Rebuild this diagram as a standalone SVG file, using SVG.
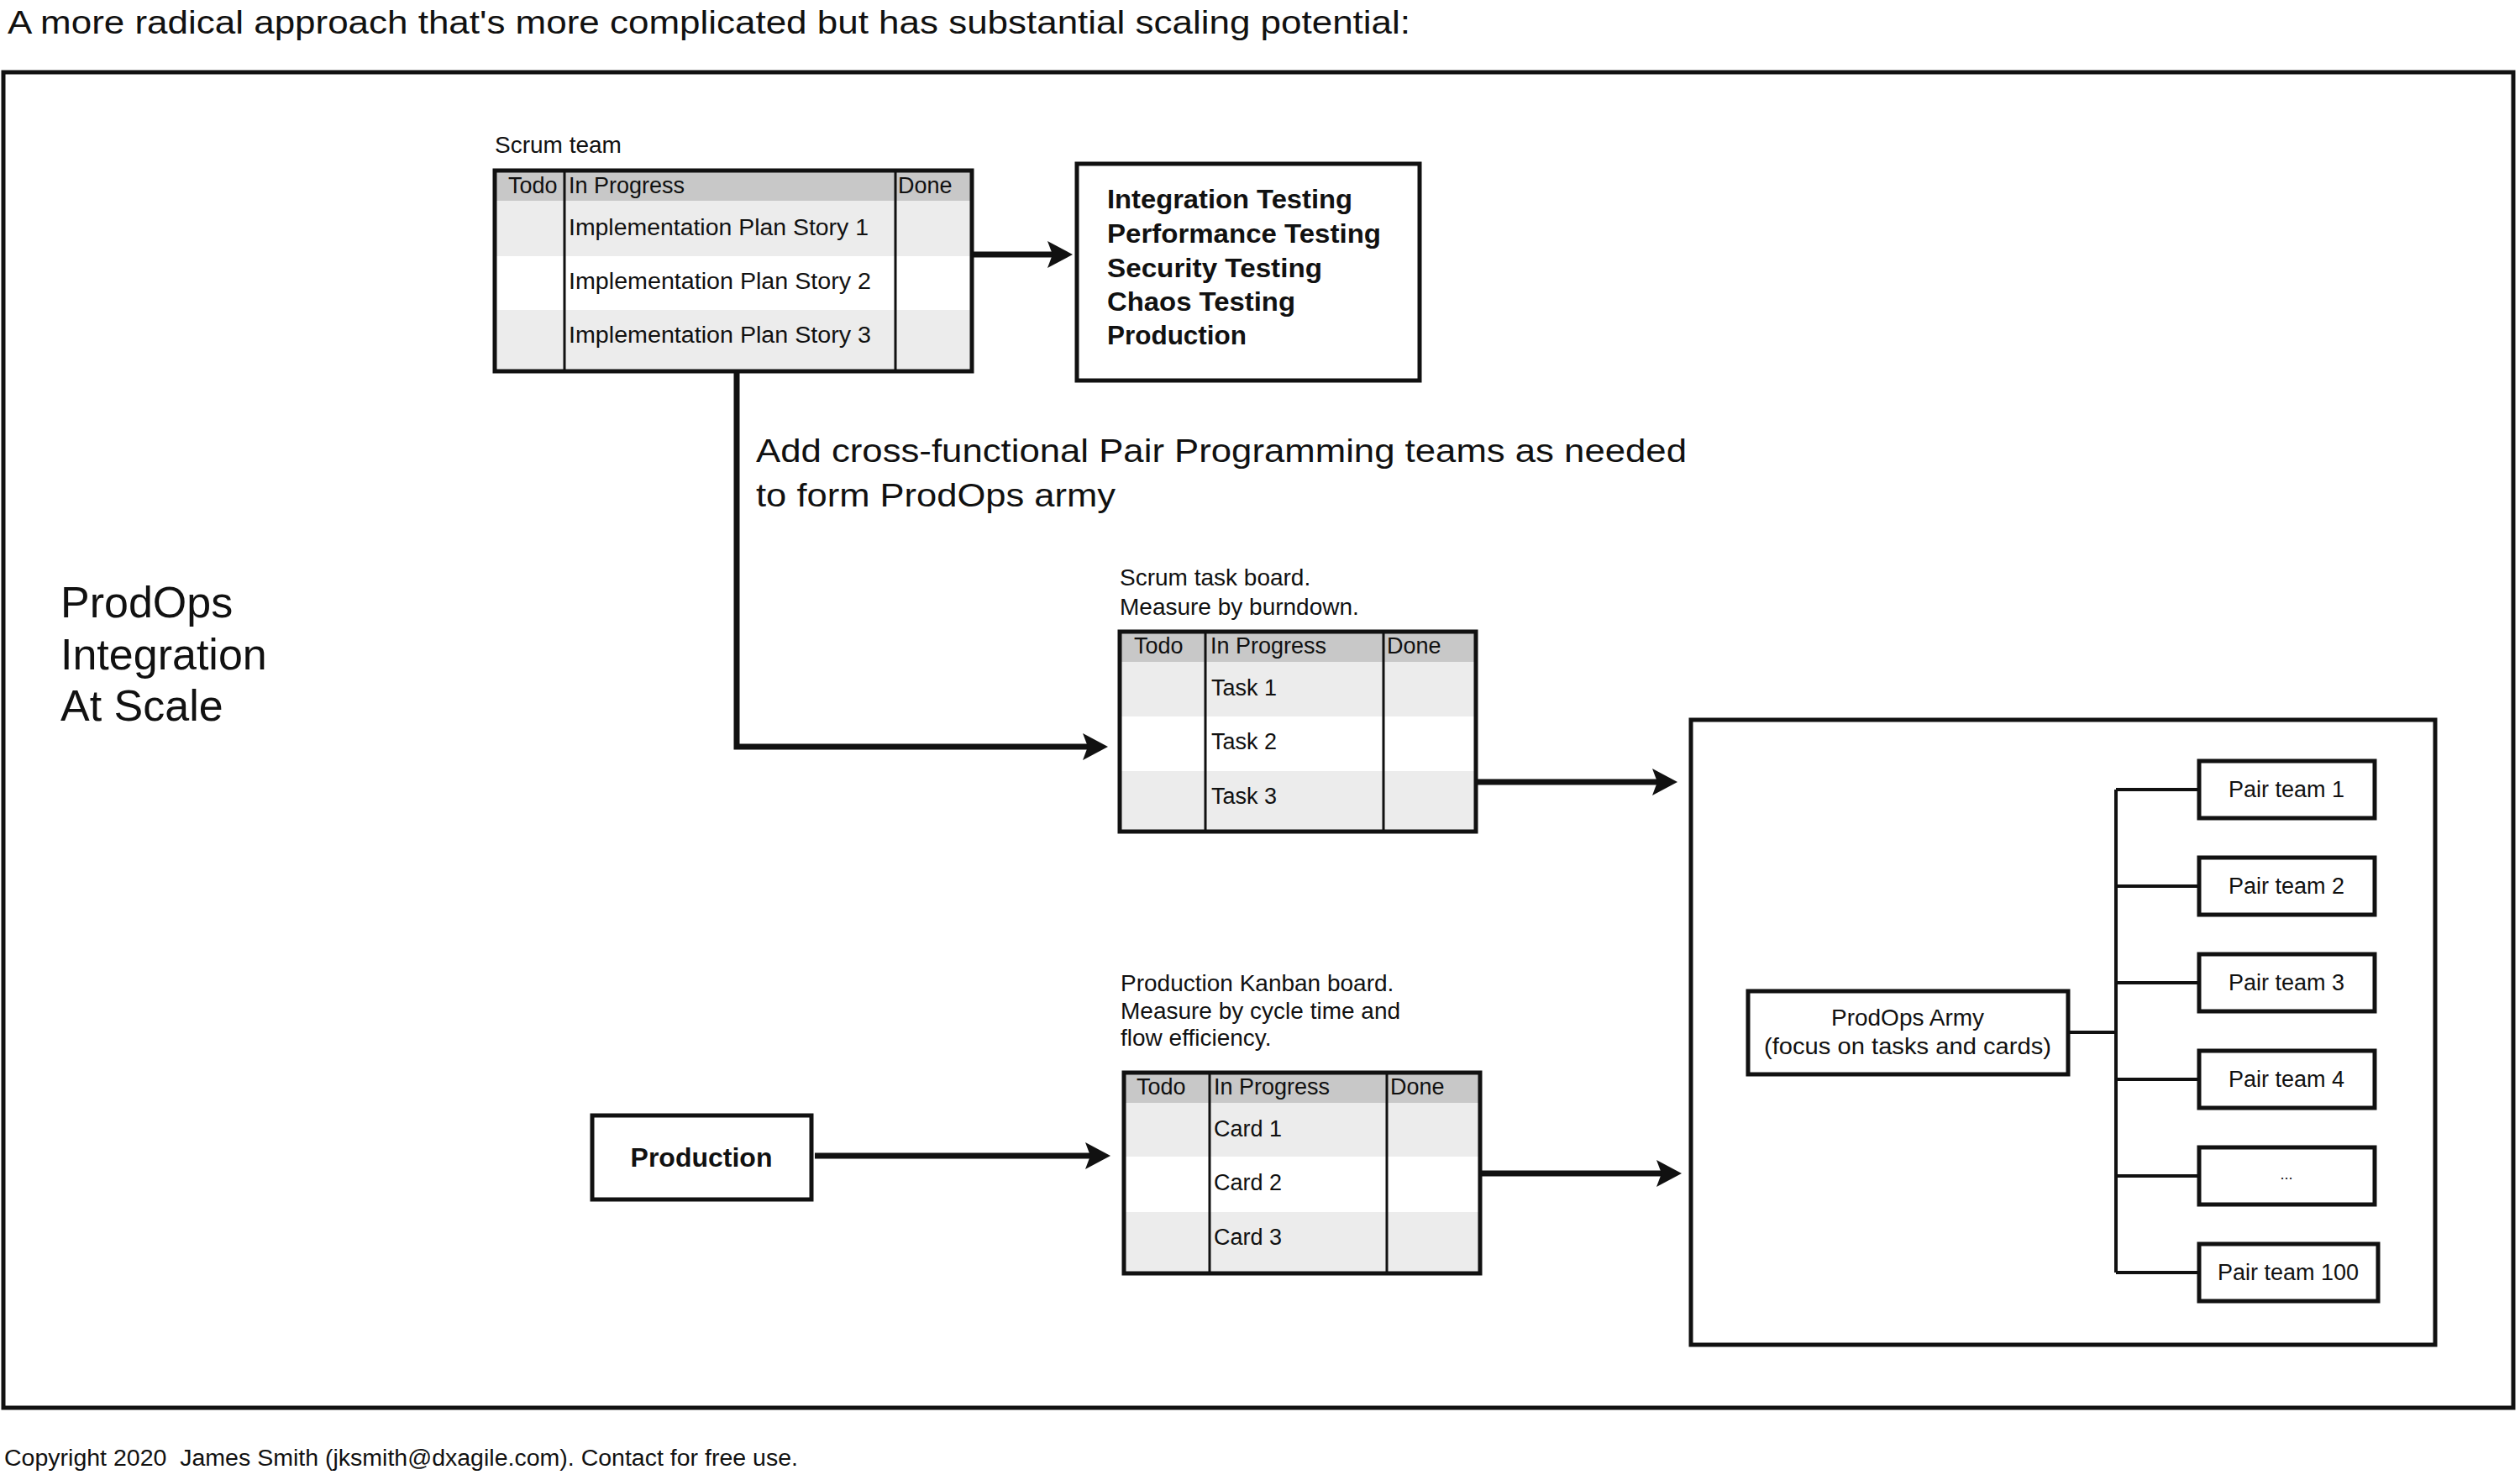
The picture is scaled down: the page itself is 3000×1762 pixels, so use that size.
<svg xmlns="http://www.w3.org/2000/svg" width="3000" height="1762" viewBox="0 0 3000 1762">
<style>
text{font-family:"Liberation Sans",Arial,sans-serif;fill:#111}
.t26{font-size:26px}
.t27{font-size:27px}
.t28{font-size:28px}
.hdr{fill:#c8c8c8}
.alt{fill:#ececec}
.wht{fill:#ffffff}
.frame{fill:none;stroke:#111;stroke-width:5}
.box{fill:#fff;stroke:#111;stroke-width:5}
.div{stroke:#111;stroke-width:3}
.conn{fill:none;stroke:#111;stroke-width:7}
.tree{fill:none;stroke:#111;stroke-width:4}
.bold{font-weight:bold}
.mid{text-anchor:middle}
</style>
<defs>
<marker id="ah" markerUnits="userSpaceOnUse" markerWidth="34" markerHeight="36" refX="24" refY="17" orient="auto">
<path d="M2,1 L32,17 L2,33 L8,17 Z" fill="#111"/>
</marker>
</defs>
<rect width="3000" height="1762" fill="#fff"/>
<text x="9" y="40" font-size="38" textLength="1670" lengthAdjust="spacingAndGlyphs">A more radical approach that's more complicated but has substantial scaling potential:</text>
<rect class="frame" x="4" y="86" width="2988" height="1590"/>
<text x="5" y="1745" font-size="27" xml:space="preserve" textLength="945" lengthAdjust="spacingAndGlyphs">Copyright 2020  James Smith (jksmith@dxagile.com). Contact for free use.</text>

<g id="title-block">
<text x="72" y="735" font-size="52">ProdOps</text>
<text x="72" y="797" font-size="52">Integration</text>
<text x="72" y="858" font-size="52">At Scale</text>
</g>

<g id="scrum-team">
<text class="t28" x="589" y="182">Scrum team</text>
<rect class="hdr" x="589" y="203" width="568" height="36"/>
<rect class="alt" x="589" y="239" width="568" height="66"/>
<rect class="wht" x="589" y="305" width="568" height="64"/>
<rect class="alt" x="589" y="369" width="568" height="73"/>
<line class="div" x1="672" y1="203" x2="672" y2="442"/>
<line class="div" x1="1066" y1="203" x2="1066" y2="442"/>
<rect class="frame" x="589" y="203" width="568" height="239"/>
<text class="t27" x="605" y="230">Todo</text>
<text class="t27" x="677" y="230">In Progress</text>
<text class="t27" x="1069" y="230">Done</text>
<text class="t27" x="677" y="280" textLength="357" lengthAdjust="spacingAndGlyphs">Implementation Plan Story 1</text>
<text class="t27" x="677" y="344" textLength="360" lengthAdjust="spacingAndGlyphs">Implementation Plan Story 2</text>
<text class="t27" x="677" y="408" textLength="360" lengthAdjust="spacingAndGlyphs">Implementation Plan Story 3</text>
</g>

<g id="testing">
<rect class="box" x="1282" y="195" width="408" height="258"/>
<text class="bold" font-size="31" x="1318" y="248" textLength="292" lengthAdjust="spacingAndGlyphs">Integration Testing</text>
<text class="bold" font-size="31" x="1318" y="289" textLength="326" lengthAdjust="spacingAndGlyphs">Performance Testing</text>
<text class="bold" font-size="31" x="1318" y="330" textLength="256" lengthAdjust="spacingAndGlyphs">Security Testing</text>
<text class="bold" font-size="31" x="1318" y="370" textLength="224" lengthAdjust="spacingAndGlyphs">Chaos Testing</text>
<text class="bold" font-size="31" x="1318" y="410" textLength="166" lengthAdjust="spacingAndGlyphs">Production</text>
</g>

<g id="label-add">
<text x="900" y="550" font-size="38" textLength="1108" lengthAdjust="spacingAndGlyphs">Add cross-functional Pair Programming teams as needed</text>
<text x="900" y="603" font-size="38" textLength="428" lengthAdjust="spacingAndGlyphs">to form ProdOps army</text>
</g>

<g id="task-board">
<text class="t28" x="1333" y="697">Scrum task board.</text>
<text class="t28" x="1333" y="732">Measure by burndown.</text>
<rect class="hdr" x="1333" y="752" width="424" height="36"/>
<rect class="alt" x="1333" y="788" width="424" height="65"/>
<rect class="wht" x="1333" y="853" width="424" height="65"/>
<rect class="alt" x="1333" y="918" width="424" height="72"/>
<line class="div" x1="1435" y1="752" x2="1435" y2="990"/>
<line class="div" x1="1647" y1="752" x2="1647" y2="990"/>
<rect class="frame" x="1333" y="752" width="424" height="238"/>
<text class="t27" x="1350" y="778">Todo</text>
<text class="t27" x="1441" y="778">In Progress</text>
<text class="t27" x="1651" y="778">Done</text>
<text class="t27" x="1442" y="828">Task 1</text>
<text class="t27" x="1442" y="892">Task 2</text>
<text class="t27" x="1442" y="957">Task 3</text>
</g>

<g id="kanban-board">
<text class="t28" x="1334" y="1180">Production Kanban board.</text>
<text class="t28" x="1334" y="1213">Measure by cycle time and</text>
<text class="t28" x="1334" y="1245">flow efficiency.</text>
<rect class="hdr" x="1338" y="1277" width="424" height="36"/>
<rect class="alt" x="1338" y="1313" width="424" height="64"/>
<rect class="wht" x="1338" y="1377" width="424" height="66"/>
<rect class="alt" x="1338" y="1443" width="424" height="73"/>
<line class="div" x1="1440" y1="1277" x2="1440" y2="1516"/>
<line class="div" x1="1651" y1="1277" x2="1651" y2="1516"/>
<rect class="frame" x="1338" y="1277" width="424" height="239"/>
<text class="t27" x="1353" y="1303">Todo</text>
<text class="t27" x="1445" y="1303">In Progress</text>
<text class="t27" x="1655" y="1303">Done</text>
<text class="t27" x="1445" y="1353">Card 1</text>
<text class="t27" x="1445" y="1417">Card 2</text>
<text class="t27" x="1445" y="1482">Card 3</text>
</g>

<g id="production">
<rect class="box" x="705" y="1328" width="261" height="100"/>
<text class="bold mid" font-size="32" x="835" y="1389">Production</text>
</g>

<g id="army-area">
<rect class="frame" x="2013" y="857" width="886" height="744"/>
</g>

<g id="army">
<rect class="box" x="2081" y="1180" width="381" height="99"/>
<text class="t28 mid" x="2271" y="1221">ProdOps Army</text>
<text class="t28 mid" x="2271" y="1255" textLength="342" lengthAdjust="spacingAndGlyphs">(focus on tasks and cards)</text>
</g>

<g id="pair-team-1"><rect class="box" x="2618" y="906" width="209" height="68"/><text class="t27 mid" x="2722" y="949">Pair team 1</text></g>
<g id="pair-team-2"><rect class="box" x="2618" y="1021" width="209" height="68"/><text class="t27 mid" x="2722" y="1064">Pair team 2</text></g>
<g id="pair-team-3"><rect class="box" x="2618" y="1136" width="209" height="68"/><text class="t27 mid" x="2722" y="1179">Pair team 3</text></g>
<g id="pair-team-4"><rect class="box" x="2618" y="1251" width="209" height="68"/><text class="t27 mid" x="2722" y="1294">Pair team 4</text></g>
<g id="pair-team-more"><rect class="box" x="2618" y="1366" width="209" height="68"/><text class="mid" font-size="18" x="2722" y="1404">...</text></g>
<g id="pair-team-100"><rect class="box" x="2618" y="1481" width="213" height="68"/><text class="t27 mid" x="2724" y="1524">Pair team 100</text></g>

<g id="connectors">
<path class="conn" d="M1157,303 L1269,303" marker-end="url(#ah)"/>
<path class="conn" d="M877,442 L877,889 L1311,889" marker-end="url(#ah)"/>
<path class="conn" d="M1757,931 L1989,931" marker-end="url(#ah)"/>
<path class="conn" d="M970,1376 L1314,1376" marker-end="url(#ah)"/>
<path class="conn" d="M1762,1397 L1994,1397" marker-end="url(#ah)"/>
<path class="tree" d="M2462,1229 L2519,1229"/>
<path class="tree" d="M2519,940 L2519,1515"/>
<path class="tree" d="M2519,940 L2618,940 M2519,1055 L2618,1055 M2519,1170 L2618,1170 M2519,1285 L2618,1285 M2519,1400 L2618,1400 M2519,1515 L2618,1515"/>
</g>
</svg>
